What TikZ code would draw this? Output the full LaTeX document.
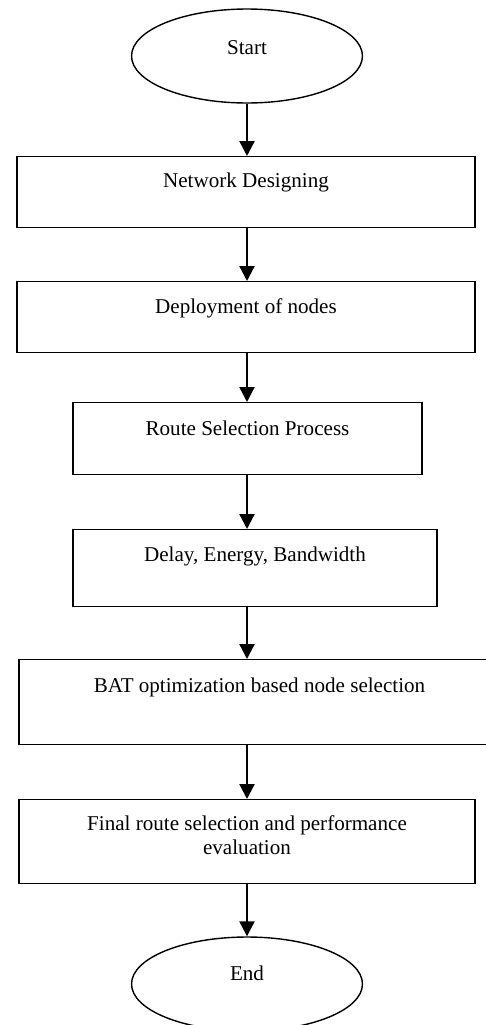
\documentclass[tikz,border=0pt]{standalone}
\usepackage{fontspec}
\setmainfont{Liberation Serif}
\usepackage{tikz}
\usetikzlibrary{shapes.geometric,arrows.meta}

\begin{document}
\begin{tikzpicture}[x=0.02cm,y=-0.02cm,>={Triangle[width=0.3cm,length=0.3cm]},
  font=\fontsize{12}{13.6}\selectfont,
  term/.style={draw,ellipse,line width=0.8pt,inner sep=0pt,minimum width=4.62cm,minimum height=1.88cm},
  stage/.style={draw,rectangle,line width=0.8pt,inner sep=0pt,anchor=north},
  flow/.style={->,line width=1.3pt}]
  \useasboundingbox (0,0) rectangle (486,1025);
  \clip (0,0) rectangle (486,1025);
  \node[term,text height=0.28cm,text depth=0.36cm] (start) at (247,56) {Start};
  \node[stage,minimum width=9.16cm,text height=0.62cm,text depth=0.80cm] (net) at (246,156) {Network Designing};
  \node[stage,minimum width=9.16cm,text height=0.64cm,text depth=0.78cm] (deploy) at (246,281) {Deployment of nodes};
  \node[stage,minimum width=6.98cm,text height=0.66cm,text depth=0.78cm] (route) at (247.5,402) {Route Selection Process};
  \node[stage,minimum width=7.28cm,text height=0.64cm,text depth=0.90cm] (metric) at (255,529) {Delay, Energy, Bandwidth};
  \node[stage,minimum width=9.62cm,text height=0.66cm,text depth=1.04cm] (bat) at (259.5,659) {BAT optimization based node selection};
  \node[stage,minimum width=9.12cm,text height=0.62cm,text depth=1.06cm] (final) at (247,799)
    {\begin{tabular}[t]{@{}c@{}}Final route selection and performance\\evaluation\end{tabular}};
  \node[term,text height=0.28cm,text depth=0.44cm] (end) at (247,984) {End};
  \draw[flow] (start.south) -- (net.north -| start);
  \draw[flow] (net.south -| start) -- (deploy.north -| start);
  \draw[flow] (deploy.south -| start) -- (route.north -| start);
  \draw[flow] (route.south -| start) -- (metric.north -| start);
  \draw[flow] (metric.south -| start) -- (bat.north -| start);
  \draw[flow] (bat.south -| start) -- (final.north -| start);
  \draw[flow] (final.south -| start) -- (end.north);
\end{tikzpicture}
\end{document}
